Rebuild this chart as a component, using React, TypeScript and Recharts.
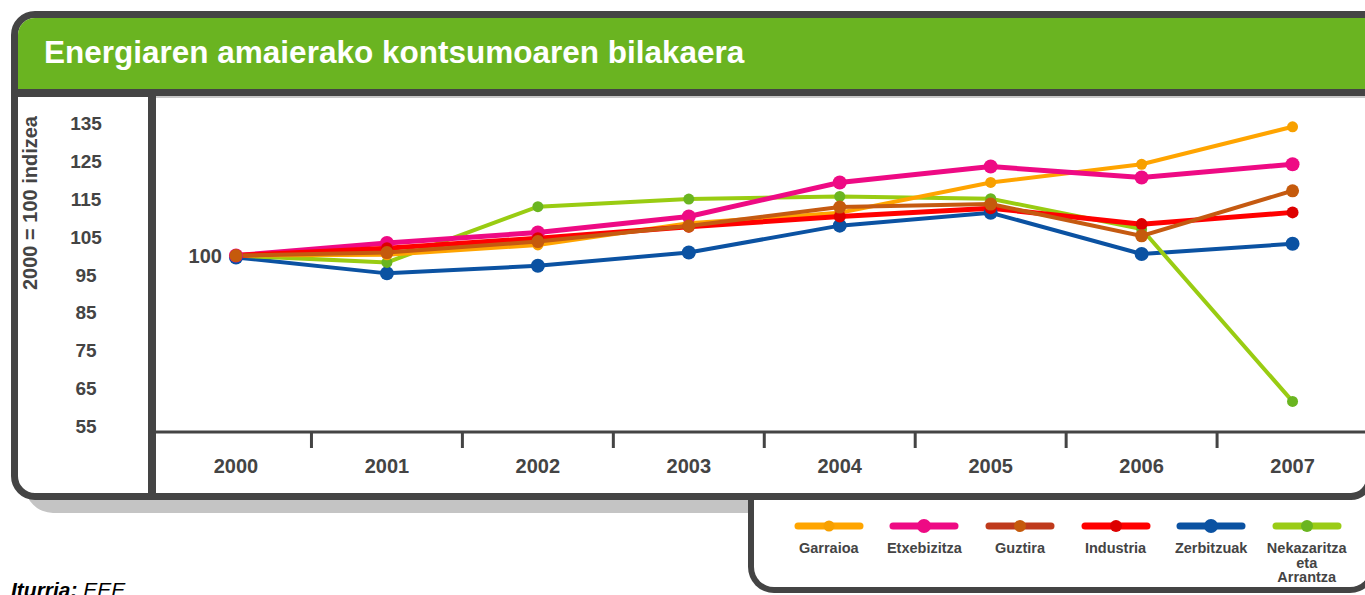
import React from "react";
import {
  LineChart,
  Line,
  XAxis,
  YAxis,
  CartesianGrid,
  Legend,
  ReferenceDot,
} from "recharts";

const years = [2000, 2001, 2002, 2003, 2004, 2005, 2006, 2007];
const garraioa = [100, 100.2, 102.8, 108.5, 111.3, 119.3, 124.1, 134.0];
const etxebizitza = [100, 103.3, 106.1, 110.3, 119.3, 123.5, 120.6, 124.1];
const guztira = [100, 100.8, 103.7, 107.8, 112.8, 113.6, 105.2, 117.1];
const industria = [100, 101.9, 104.6, 107.6, 110.3, 112.5, 108.3, 111.4];
const zerbitzuak = [99.5, 95.3, 97.3, 100.8, 107.9, 111.3, 100.4, 103.1];
const nekazaritza = [100, 98.2, 112.9, 114.9, 115.6, 115.0, 107.0, 61.5];

const yTicks = [55, 65, 75, 85, 95, 105, 115, 125, 135];
const gridTicks = [65, 75, 85, 95, 105, 115, 125, 135];
const yearBoundaries = [2000.5, 2001.5, 2002.5, 2003.5, 2004.5, 2005.5, 2006.5];
const legendOrder = [
  "Garraioa",
  "Etxebizitza",
  "Guztira",
  "Industria",
  "Zerbitzuak",
  "Nekazaritza eta Arrantza",
];

const FONT = "'Liberation Sans', Arial, sans-serif";
const DARK = "#444444";
const LABEL_COL_X = 86; // centre of the left label column

// drawing order (first = bottom)
const series = [
  { key: "zerbitzuak", name: "Zerbitzuak", values: zerbitzuak, color: "#0b52a2", dot: "#0b52a2", r: 7, width: 4, legendLine: "#0b52a2", legendDot: 7 },
  { key: "nekazaritza", name: "Nekazaritza eta Arrantza", values: nekazaritza, color: "#99cc12", dot: "#6ab520", r: 5.5, width: 4, legendLine: "#9acc16", legendDot: 6 },
  { key: "garraioa", name: "Garraioa", values: garraioa, color: "#ffa400", dot: "#f7a000", r: 5.5, width: 4, legendLine: "#ffa500", legendDot: 5.5 },
  { key: "etxebizitza", name: "Etxebizitza", values: etxebizitza, color: "#ee0a84", dot: "#ee0a84", r: 7, width: 5, legendLine: "#ee0a84", legendDot: 7 },
  { key: "industria", name: "Industria", values: industria, color: "#ff0000", dot: "#dd0000", r: 6, width: 5, legendLine: "#ff0000", legendDot: 6 },
  { key: "guztira", name: "Guztira", values: guztira, color: "#c55a11", dot: "#c55a0c", r: 6.5, width: 4, legendLine: "#bf3a1c", legendDot: 6 },
];

const data = years.map((year, i) => {
  const row: Record<string, number> = { year };
  series.forEach((s) => {
    row[s.key] = s.values[i];
  });
  return row;
});

const xTicks = [...years, ...yearBoundaries].sort((a, b) => a - b);

function YearTick(props: any) {
  const { x, y, payload } = props;
  if (Number.isInteger(payload.value)) {
    return (
      <text
        x={x}
        y={y}
        dy={41}
        textAnchor="middle"
        fill={DARK}
        fontSize={20}
        fontWeight={700}
        fontFamily={FONT}
      >
        {payload.value}
      </text>
    );
  }
  return <line x1={x} x2={x} y1={y} y2={y + 16} stroke={DARK} strokeWidth={3} />;
}

function ValueTick(props: any) {
  const { y, payload } = props;
  return (
    <text
      x={LABEL_COL_X}
      y={y}
      dy={7}
      textAnchor="middle"
      fill={DARK}
      fontSize={19}
      fontWeight={700}
      fontFamily={FONT}
    >
      {payload.value}
    </text>
  );
}

function renderLegend(props: any) {
  const payload = props.payload || [];
  const items = legendOrder
    .map((name) => payload.find((p: any) => p.value === name))
    .filter(Boolean);
  return (
    <div style={{ display: "flex", fontFamily: FONT }}>
      {items.map((item: any) => {
        const s = series.find((x) => x.name === item.value)!;
        return (
          <div
            key={s.key}
            style={{
              width: 95.6,
              display: "flex",
              flexDirection: "column",
              alignItems: "center",
            }}
          >
            <svg width={70} height={14}>
              <line x1={4} x2={66} y1={7} y2={7} stroke={s.legendLine} strokeWidth={7} strokeLinecap="round" />
              <circle cx={35} cy={7} r={s.legendDot} fill={s.dot} />
            </svg>
            <div
              style={{
                marginTop: 8,
                fontSize: 14.5,
                fontWeight: 700,
                color: DARK,
                lineHeight: "14.5px",
                textAlign: "center",
              }}
            >
              {s.name.split(" ").map((w) => (
                <div key={w}>{w}</div>
              ))}
            </div>
          </div>
        );
      })}
    </div>
  );
}

export default function App() {
  return (
    <div
      style={{
        position: "absolute",
        left: 0,
        top: 0,
        width: 1365,
        height: 595,
        overflow: "hidden",
        background: "#fff",
        fontFamily: FONT,
      }}
    >
      {/* shadow under the frame */}
      <div
        style={{
          position: "absolute",
          left: 25,
          top: 470,
          width: 730,
          height: 43,
          background: "#c4c4c4",
          borderBottomLeftRadius: 28,
        }}
      />
      {/* legend tab */}
      <div
        style={{
          position: "absolute",
          left: 748,
          top: 480,
          width: 628,
          height: 113,
          boxSizing: "border-box",
          border: `6px solid ${DARK}`,
          borderTop: "none",
          borderRadius: "0 0 26px 26px",
          background: "#fff",
        }}
      />
      {/* main frame */}
      <div
        style={{
          position: "absolute",
          left: 11,
          top: 11,
          width: 1362,
          height: 489,
          boxSizing: "border-box",
          border: `7px solid ${DARK}`,
          borderRadius: "24px 0 22px 24px",
          background: "#fff",
          overflow: "hidden",
        }}
      >
        <div
          style={{
            height: 71,
            background: "#6ab421",
            borderBottom: `8px solid ${DARK}`,
          }}
        />
        <div
          style={{
            position: "absolute",
            left: 130,
            top: 79,
            width: 8,
            height: 400,
            background: DARK,
          }}
        />
      </div>
      <div
        style={{
          position: "absolute",
          left: 44,
          top: 37,
          fontSize: 31.5,
          lineHeight: "31.5px",
          fontWeight: 700,
          color: "#fff",
          whiteSpace: "nowrap",
        }}
      >
        Energiaren amaierako kontsumoaren bilakaera
      </div>
      <div
        style={{
          position: "absolute",
          left: 30,
          top: 203,
          transform: "translate(-50%, -50%) rotate(-90deg)",
          fontSize: 20,
          fontWeight: 700,
          color: DARK,
          whiteSpace: "nowrap",
        }}
      >
        2000 = 100 indizea
      </div>
      <div
        style={{
          position: "absolute",
          left: 11,
          top: 579,
          fontSize: 21,
          lineHeight: "21px",
          fontStyle: "italic",
          color: "#000",
          whiteSpace: "nowrap",
        }}
      >
        <b>Iturria:</b> EEE
      </div>

      <div style={{ position: "absolute", left: 0, top: 0 }}>
        <LineChart
          width={1365}
          height={595}
          data={data}
          margin={{ top: 97, right: 0, bottom: 123, left: 0 }}
          style={{ fontFamily: FONT }}
        >
          <YAxis
            yAxisId="grid"
            type="number"
            domain={[54.39, 139.58]}
            ticks={gridTicks}
            hide
          />
          <CartesianGrid
            yAxisId="grid"
            vertical={false}
            stroke="#c8c8c8"
            strokeWidth={2}
          />
          <XAxis
            dataKey="year"
            type="number"
            domain={[1999.47, 2007.48]}
            ticks={xTicks}
            interval={0}
            height={40}
            tickSize={0}
            tickMargin={0}
            tickLine={false}
            axisLine={{ stroke: DARK, strokeWidth: 3 }}
            tick={<YearTick />}
          />
          <YAxis
            yAxisId="val"
            type="number"
            domain={[53.42, 141.86]}
            ticks={yTicks}
            interval={0}
            width={156}
            axisLine={false}
            tickLine={false}
            tick={<ValueTick />}
          />
          {series.map((s) => (
            <Line
              key={s.key}
              yAxisId="val"
              type="linear"
              dataKey={s.key}
              name={s.name}
              stroke={s.color}
              strokeWidth={s.width}
              dot={{ r: s.r, fill: s.dot, stroke: "none" }}
              activeDot={false}
              isAnimationActive={false}
            />
          ))}
          <ReferenceDot
            yAxisId="val"
            x={2000}
            y={100}
            r={0}
            fill="none"
            stroke="none"
            label={{
              value: "100",
              position: "left",
              offset: 14,
              fill: DARK,
              fontSize: 20,
              fontWeight: 700,
            }}
          />
          <Legend
            layout="vertical"
            align="center"
            verticalAlign="middle"
            content={renderLegend}
            wrapperStyle={{ left: 781, top: 519, width: 580 }}
          />
        </LineChart>
      </div>
    </div>
  );
}
